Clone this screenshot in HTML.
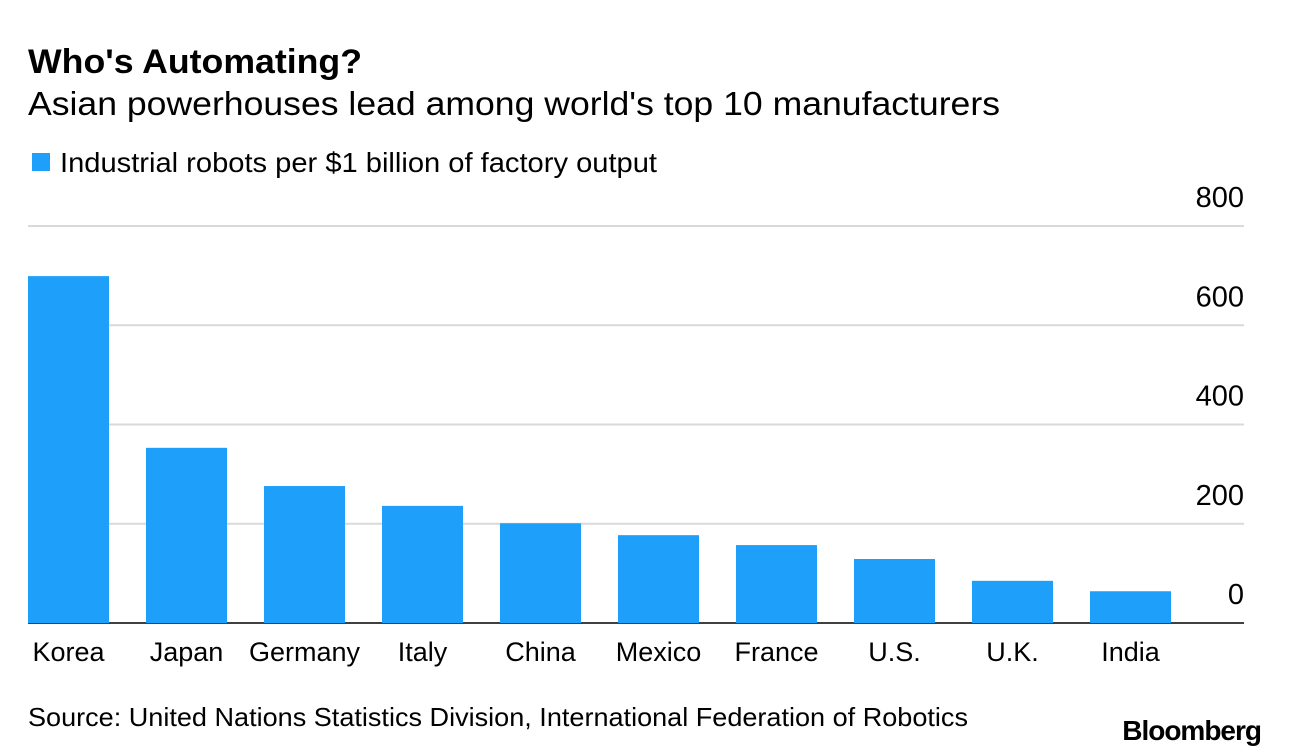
<!DOCTYPE html>
<html><head><meta charset="utf-8"><style>
body{margin:0;background:#fff;font-family:"Liberation Sans",sans-serif;}
#wrap{position:relative;width:1289px;height:756px;overflow:hidden;}
</style></head><body>
<div id="wrap">
<svg id="chart" width="1289" height="756">
<text x="28" y="73" font-size="34" font-weight="bold" fill="#000" textLength="334" lengthAdjust="spacingAndGlyphs">Who's Automating?</text>
<text x="28" y="115" font-size="33" fill="#000" textLength="972" lengthAdjust="spacingAndGlyphs">Asian powerhouses lead among world's top 10 manufacturers</text>
<rect x="32" y="153" width="18" height="18" fill="#1e9ffa"/>
<text x="60" y="172" font-size="28" fill="#000" textLength="597" lengthAdjust="spacingAndGlyphs">Industrial robots per $1 billion of factory output</text>
<g id="grid"></g><g id="bars"></g><g id="labels"></g>
<text x="28" y="726" font-size="26" fill="#000" textLength="940" lengthAdjust="spacingAndGlyphs">Source: United Nations Statistics Division, International Federation of Robotics</text>
<text x="1261" y="740" font-size="28" font-weight="bold" text-anchor="end" fill="#000" letter-spacing="-1">Bloomberg</text>
</svg>
</div>
<script>
const categories=["Korea","Japan","Germany","Italy","China","Mexico","France","U.S.","U.K.","India"];
const values=[699,353,276,236,201,177,157,129,85,64];
const ticks=[0,200,400,600,800];
const ns="http://www.w3.org/2000/svg";
const y0=623,y800=226,left=28,right=1244,step=118,bw=81;
function y(v){return y0-(y0-y800)*v/800;}
function x(i){return left+i*step;}
function mk(t,a,p){const e=document.createElementNS(ns,t);for(const k in a)e.setAttribute(k,a[k]);p.appendChild(e);return e;}
const g=document.getElementById('grid');
ticks.forEach(t=>{
 const l=mk('line',{x1:left,x2:right,y1:y(t),y2:y(t),stroke:t===0?'#000':'#d9d9d9','stroke-width':t===0?1.5:2},g);
 
 
 const tx=mk('text',{x:1244,y:y(t)-19,'font-size':29,'text-anchor':'end',fill:'#000'},g);
 tx.textContent=t;
 
 
});
const b=document.getElementById('bars'),lb=document.getElementById('labels');
categories.forEach((c,i)=>{
 const r=mk('rect',{x:x(i),y:y(values[i]),width:bw,height:y0-y(values[i]),fill:'#1e9ffa'},b);
 
 
 const t=mk('text',{x:x(i)+bw/2,y:661,'font-size':27,'text-anchor':'middle',fill:'#000'},lb);
 t.textContent=c;
 
 
});
</script>
</body></html>
